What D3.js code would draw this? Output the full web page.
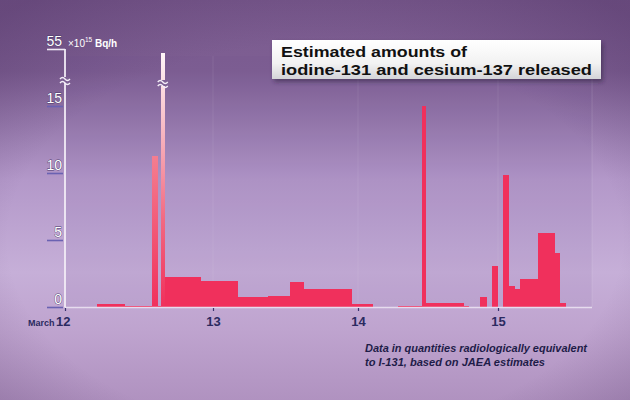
<!DOCTYPE html>
<html><head><meta charset="utf-8">
<script src="https://cdn.jsdelivr.net/npm/d3@7"></script>
<style>html,body{margin:0;padding:0;background:#a888b8;}svg{display:block;}</style>
</head><body>
<svg id="chart" width="630" height="400"></svg>
<script>
// ---- data (time in days of March, value in 10^15 Bq/h) ----
const barStart = [12.216,12.405,12.588,12.625,12.647,12.674,12.919,13.172,13.382,13.528,13.631,13.962,14.104,14.286,14.457,14.486,14.757,14.871,14.954,15.036,15.081,15.121,15.159,15.283,15.409,15.446];
const barEnd   = [12.405,12.588,12.625,12.647,12.674,12.919,13.172,13.382,13.528,13.631,13.962,14.104,14.286,14.457,14.486,14.757,14.793,14.921,15.000,15.081,15.121,15.159,15.283,15.409,15.446,15.489];
const barValue = [0.2,0.05,11.3,0.1,52,2.25,1.96,0.75,0.85,1.9,1.38,0.2,0.03,0.1,15.1,0.33,0.1,0.72,3.08,9.85,1.57,1.38,2.07,5.55,4.05,0.33];
const xTicks = [12,13,14,15];
const xTickLabels = ["12","13","14","15"];
const monthLabel = "March";
const yTicks = [0,5,10,15,55];
const yTickLabels = ["0","5","10","15","55"];
const titleLines = ["Estimated amounts of","iodine-131 and cesium-137 released"];
const noteLines = ["Data in quantities radiologically equivalent","to I-131, based on JAEA estimates"];
const unitLabel = "Bq/h";

const svg = d3.select("#chart");
const defs = svg.append("defs");

// background gradients
const bg = defs.append("linearGradient").attr("id","bg").attr("x1",0).attr("y1",0).attr("x2",0).attr("y2",1);
[[0,"#7a5a8e"],[0.18,"#7e5f93"],[0.45,"#b398c9"],[0.68,"#c6afd8"],[0.82,"#bfa4cf"],[1,"#b092c0"]]
  .forEach(([o,c])=>bg.append("stop").attr("offset",o).attr("stop-color",c));
const vig = defs.append("radialGradient").attr("id","vig").attr("cx",0.5).attr("cy",0.6).attr("r",0.75);
[[0,"#3a1f50",0],[0.65,"#3a1f50",0],[1,"#3a1f50",0.3]]
  .forEach(([o,c,a])=>vig.append("stop").attr("offset",o).attr("stop-color",c).attr("stop-opacity",a));

svg.append("rect").attr("width",630).attr("height",400).attr("fill","url(#bg)");
svg.append("rect").attr("width",630).attr("height",400).attr("fill","url(#vig)");

// scales (piecewise to follow the picture's day spacing, broken y axis)
const x = d3.scaleLinear().domain([12,13,14,15,16]).range([65,213,358,498,638]);
const y = d3.scaleLinear().domain([0,15,55]).range([307,106,49]);

// plot panel
svg.append("rect").attr("x",65).attr("y",56).attr("width",527).attr("height",251)
  .attr("fill","#6a4a88").attr("fill-opacity",0.07);
svg.append("line").attr("x1",592).attr("x2",592).attr("y1",56).attr("y2",307)
  .attr("stroke","#ffffff").attr("stroke-opacity",0.12);

// faint vertical grid at days
svg.append("g").selectAll("line").data(xTicks.slice(1)).join("line")
  .attr("x1",d=>x(d)).attr("x2",d=>x(d)).attr("y1",56).attr("y2",307)
  .attr("stroke","#ffffff").attr("stroke-opacity",0.08);

// gradients for the two early spikes
const gTall = defs.append("linearGradient").attr("id","gTall").attr("gradientUnits","userSpaceOnUse")
  .attr("x1",0).attr("x2",0).attr("y1",y(0)).attr("y2",y(52));
[[0,"#f0305c"],[0.35,"#f26a82"],[0.75,"#f8c4cc"],[1,"#fff6f8"]]
  .forEach(([o,c])=>gTall.append("stop").attr("offset",o).attr("stop-color",c));
const gMid = defs.append("linearGradient").attr("id","gMid").attr("gradientUnits","userSpaceOnUse")
  .attr("x1",0).attr("x2",0).attr("y1",y(0)).attr("y2",y(11.3));
[[0,"#f0305c"],[1,"#f47e90"]]
  .forEach(([o,c])=>gMid.append("stop").attr("offset",o).attr("stop-color",c));

const bars = barStart.map((s,i)=>({s, e:barEnd[i], v:barValue[i]}));
svg.append("g").selectAll("rect").data(bars).join("rect")
  .attr("x",d=>x(d.s)).attr("width",d=>x(d.e)-x(d.s))
  .attr("y",d=>y(d.v)).attr("height",d=>y(0)-y(d.v))
  .attr("fill",(d,i)=> d.v>20 ? "url(#gTall)" : (d.v>11 && d.s<13 ? "url(#gMid)" : "#f0305c"))
  .attr("shape-rendering","crispEdges");

// x axis baseline
svg.append("line").attr("x1",65).attr("x2",592).attr("y1",307.5).attr("y2",307.5)
  .attr("stroke","#e6dcee").attr("stroke-width",1.5);
const xg = svg.append("g").attr("transform","translate(0,308)")
  .call(d3.axisBottom(x).tickValues(xTicks).tickSize(3).tickFormat((d,i)=> i===0 ? "" : xTickLabels[i]));
xg.select(".domain").remove();
xg.selectAll(".tick line").attr("stroke","#3a3470").attr("stroke-width",1.2);
xg.selectAll(".tick text").attr("dy",null).attr("y",18)
  .attr("font-family","'Liberation Sans', Arial, sans-serif").attr("font-weight","bold")
  .attr("font-size",13).attr("fill","#2b2a60");
// "March 12" as one label
const ml = svg.append("text").attr("x",28).attr("y",326)
  .attr("font-family","'Liberation Sans', Arial, sans-serif").attr("font-weight","bold").attr("fill","#2b2a60");
ml.append("tspan").text(monthLabel).attr("font-size",9);
ml.append("tspan").text(xTickLabels[0]).attr("font-size",13).attr("dx",1.5);

// y axis
svg.append("line").attr("x1",65).attr("x2",65).attr("y1",49).attr("y2",307.5)
  .attr("stroke","#f2ecf6").attr("stroke-width",1.8);
const yg = svg.append("g");
const yt = yg.selectAll("g").data(yTicks).join("g");
yt.append("line").attr("x1",47).attr("x2",d=>d===55?65:63)
  .attr("y1",d=>y(d)+0.5).attr("y2",d=>y(d)+0.5)
  .attr("stroke",d=>d===55?"#efe8f4":"#6a62b2").attr("stroke-width",1.6);
yt.append("text").attr("x",62).attr("y",d=>y(d)-3).attr("text-anchor","end")
  .text((d,i)=>yTickLabels[i])
  .attr("font-family","'Liberation Sans', Arial, sans-serif")
  .attr("font-size",14).attr("fill","#ffffff")
  .attr("stroke","#4a3a6a").attr("stroke-width",0.8).attr("paint-order","stroke");

// unit label
const ut = svg.append("text").attr("x",68).attr("y",47)
  .attr("font-family","'Liberation Sans', Arial, sans-serif").attr("font-size",10).attr("fill","#ffffff");
ut.append("tspan").text("×10");
ut.append("tspan").text("15").attr("font-size",6.5).attr("dy",-5);
ut.append("tspan").text(" " + unitLabel).attr("dy",5).attr("font-weight","bold");

// break marks
function brk(cx, cy){
  const g = svg.append("g").attr("transform",`translate(${cx},${cy})`);
  g.append("rect").attr("x",-4).attr("y",-3).attr("width",8).attr("height",6).attr("fill","#7d6094");
  ["M-5,-1 q2.5,-3 5,0 t5,0","M-5,3 q2.5,-3 5,0 t5,0"].forEach(p=>
    g.append("path").attr("d",p).attr("fill","none").attr("stroke","#f4eef8").attr("stroke-width",1.4));
}
brk(65, 80);
brk((x(barStart[4])+x(barEnd[4]))/2, 83);

// title box
const tb = defs.append("linearGradient").attr("id","tb").attr("x1",0).attr("y1",0).attr("x2",0).attr("y2",1);
[[0,"#ffffff"],[0.6,"#f2f2f2"],[1,"#d4d4d8"]].forEach(([o,c])=>tb.append("stop").attr("offset",o).attr("stop-color",c));
const sh = defs.append("filter").attr("id","sh").attr("x","-10%").attr("y","-20%").attr("width","130%").attr("height","160%");
sh.append("feDropShadow").attr("dx",2).attr("dy",3).attr("stdDeviation",2).attr("flood-color","#2a1a3a").attr("flood-opacity",0.5);
svg.append("rect").attr("x",272).attr("y",40).attr("width",329).attr("height",39)
  .attr("fill","url(#tb)").attr("filter","url(#sh)");
const tl = [{t:titleLines[0], y:57, w:186},{t:titleLines[1], y:74.5, w:311}];
svg.append("g").selectAll("text").data(tl).join("text")
  .attr("x",281).attr("y",d=>d.y).text(d=>d.t)
  .attr("textLength",d=>d.w).attr("lengthAdjust","spacingAndGlyphs")
  .attr("font-family","'Liberation Sans', Arial, sans-serif").attr("font-weight","bold")
  .attr("font-size",15.5).attr("fill","#111111");

// note
const nl = [{t:noteLines[0], y:352, w:222},{t:noteLines[1], y:366, w:180}];
svg.append("g").selectAll("text").data(nl).join("text")
  .attr("x",365).attr("y",d=>d.y).text(d=>d.t)
  .attr("textLength",d=>d.w).attr("lengthAdjust","spacingAndGlyphs")
  .attr("font-family","'Liberation Sans', Arial, sans-serif").attr("font-style","italic").attr("font-weight","bold")
  .attr("font-size",11.5).attr("fill","#1e1c48");
</script>
</body></html>
